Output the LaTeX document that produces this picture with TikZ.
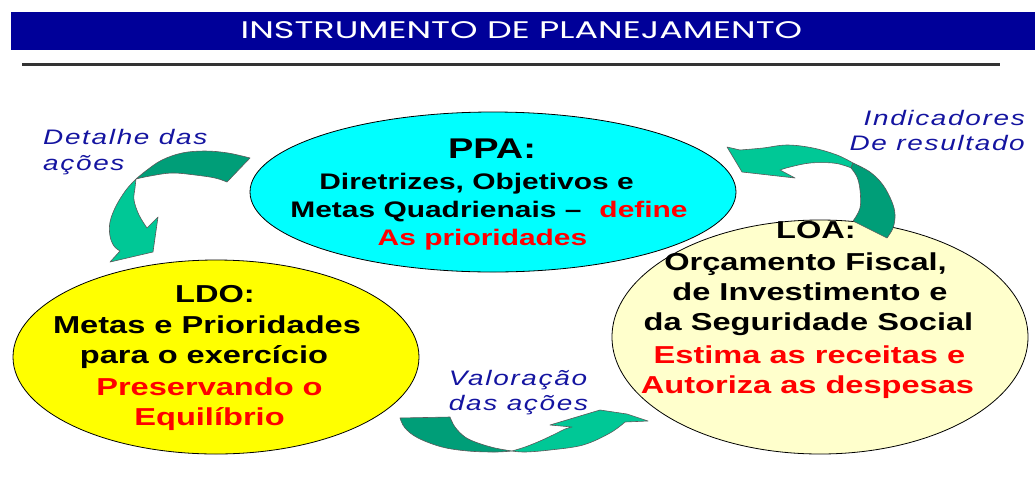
\documentclass[tikz,border=0pt]{standalone}
\usepackage{fontspec}
\setmainfont{Liberation Sans}[FakeStretch=1.33]
\newfontfamily\titlefont{Poppins}[FakeStretch=1.46]
\newfontfamily\lblfont{Liberation Sans}[FakeStretch=1.33,LetterSpace=8]
\usetikzlibrary{shapes.geometric}
\definecolor{barblue}{RGB}{0,0,153}
\definecolor{lblblue}{RGB}{20,20,160}
\definecolor{gdark}{RGB}{0,158,120}
\definecolor{glight}{RGB}{0,200,150}
\definecolor{ppacyan}{RGB}{0,255,255}
\definecolor{ldoyel}{RGB}{255,255,0}
\definecolor{lightyel}{RGB}{255,255,204}
\definecolor{txtred}{RGB}{255,0,0}
\begin{document}
\begin{tikzpicture}[x=1pt,y=-1pt,
  ell/.style={draw=black, line width=0.8pt, ellipse, inner sep=0pt},
  arr/.style={draw=black!65, line width=0.6pt, line join=round},
  sm/.style={smooth, tension=0.6},
  hd/.style={anchor=base, inner sep=0pt, font=\bfseries\fontsize{28.5}{30}\selectfont},
  ppl/.style={anchor=base, inner sep=0pt, font=\bfseries\fontsize{22.5}{26}\selectfont},
  bl/.style={anchor=base, inner sep=0pt, font=\bfseries\fontsize{24.5}{28}\selectfont},
  lbl/.style={inner sep=0pt, text=lblblue, font=\lblfont\itshape\fontsize{21}{23}\selectfont}]
\useasboundingbox (0,0) rectangle (1035,496);
% title bar
\fill[barblue] (11,11.7) rectangle (1035,50);
\node[anchor=base, inner sep=0pt, text=white, font=\titlefont\fontsize{24}{24}\selectfont] (title) at (521.5,38.3) {INSTRUMENTO DE PLANEJAMENTO};
\draw[line width=3pt, black!80] (22,64.3) -- (1000,64.3);
% ellipses
\node[ell, fill=ppacyan, minimum width=486pt, minimum height=160pt] (ppa) at (493,192) {};
\node[ell, fill=ldoyel, minimum width=406pt, minimum height=194pt] (ldo) at (216,357) {};
\node[ell, fill=lightyel, minimum width=416pt, minimum height=234pt] (loa) at (820,337) {};
% arrow 1 (Detalhe das acoes)
\filldraw[arr, fill=glight] plot[sm] coordinates {(136,179) (126,190) (116,206) (110,222) (110,236) (114,246) (120,251)} -- (110,262) -- (153,252) -- (158,217) -- plot[sm] coordinates {(147,228) (139,215) (134,200) (135,188) (136,179)} -- cycle;
\filldraw[arr, fill=gdark] plot[sm] coordinates {(250,158) (228,153) (205,151) (182,153) (162,160) (147,170) (136,179)} -- plot[sm] coordinates {(136,179) (150,176) (172,173) (195,175) (215,178) (227,182)} -- cycle;
% arrow 2 (Indicadores)
\filldraw[arr, fill=glight] plot[sm] coordinates {(853,163) (837,155) (813,148) (787,145) (763,148) (740,150)} -- (727,147) -- (742,172) -- (795,178) -- plot[sm] coordinates {(780,170) (790,167) (810,163) (833,163) (846,166) (851,168)} -- cycle;
\filldraw[arr, fill=gdark] plot[sm] coordinates {(853,163) (870,172) (883,185) (892,202) (895,215) (893,228) (887,238)} -- plot[sm] coordinates {(853,221) (860,208) (860,190) (857,177) (851,168)} -- cycle;
% arrow 3 (Valoracao)
\filldraw[arr, fill=glight] plot[sm] coordinates {(512,451) (525,447) (540,441) (555,434) (565,429) (572,427)} -- (550,425) -- (600,410) -- (627,414) -- (648,421) -- plot[sm] coordinates {(625,422) (610,433) (583,445) (550,450) (525,452) (512,451)} -- cycle;
\filldraw[arr, fill=gdark] plot[sm] coordinates {(400,418) (405,428) (418,438) (442,447) (468,451) (495,452) (512,451)} -- plot[sm] coordinates {(512,451) (495,448) (478,443) (465,437) (455,427) (450,417)} -- cycle;
% PPA text
\node[hd] (ppa1) at (492,158) {PPA:};
\node[ppl] (ppa2) at (476.5,189) {Diretrizes, Objetivos e};
\node[ppl] (ppa3) at (489,217) {Metas Quadrienais –\hspace{18pt}\textcolor{txtred}{define}};
\node[ppl, text=txtred] (ppa4) at (482.5,245) {As prioridades};
% LDO text
\node[bl] (ldo1) at (215,302) {LDO:};
\node[bl] (ldo2) at (207,333) {Metas e Prioridades};
\node[bl] (ldo3) at (204,363) {para o exercício};
\node[bl, text=txtred] (ldo4) at (209.5,395.5) {Preservando o};
\node[bl, text=txtred] (ldo5) at (209.5,425.5) {Equilíbrio};
% LOA text
\node[bl] (loa1) at (816,238) {LOA:};
\node[bl] (loa2) at (805.5,270) {Orçamento Fiscal,};
\node[bl] (loa3) at (810,300) {de Investimento e};
\node[bl] (loa4) at (808.5,330) {da Seguridade Social};
\node[bl, text=txtred] (loa5) at (809.5,363) {Estima as receitas e};
\node[bl, text=txtred] (loa6) at (807.5,393) {Autoriza as despesas};
% labels
\node[lbl, anchor=base west] (det1) at (43,144) {Detalhe das};
\node[lbl, anchor=base west] (det2) at (43,170) {ações};
\node[lbl, anchor=base east] (ind1) at (1025,125) {Indicadores};
\node[lbl, anchor=base east] (ind2) at (1025,150) {De resultado};
\node[lbl, anchor=base] (val1) at (518,385) {Valoração};
\node[lbl, anchor=base] (val2) at (518.5,410) {das ações};
\end{tikzpicture}
\end{document}
